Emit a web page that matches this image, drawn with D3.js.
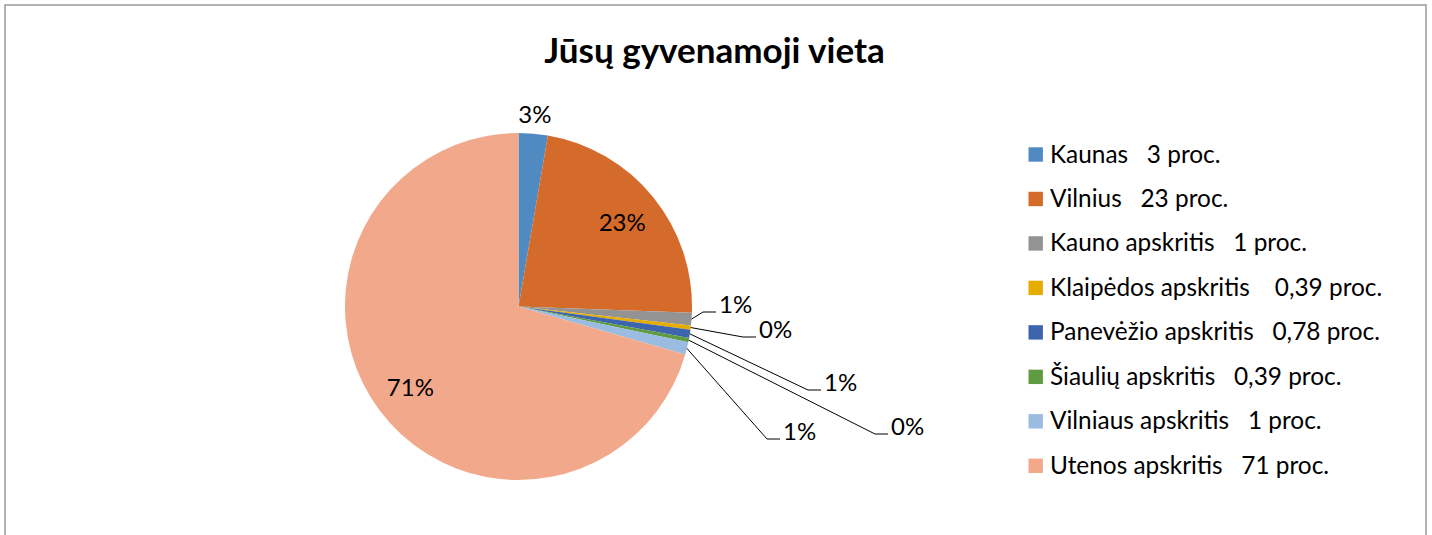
<!DOCTYPE html>
<html>
<head>
<meta charset="utf-8">
<script src="https://cdn.jsdelivr.net/npm/d3@7"></script>
<style>
  html, body { margin: 0; padding: 0; background: #fff; }
  svg { display: block; }
  text { font-family: Lato, "Open Sans", sans-serif; fill: #000; }
  .legend text { white-space: pre; }
</style>
</head>
<body>
<svg id="chart" width="1432" height="535"></svg>
<script>
// ---- data ----
const title = "Jūsų gyvenamoji vieta";
const categories = ["Kaunas", "Vilnius", "Kauno apskritis", "Klaipėdos apskritis", "Panevėžio apskritis", "Šiaulių apskritis", "Vilniaus apskritis", "Utenos apskritis"];
const values = [2.71, 22.87, 1.16, 0.39, 0.78, 0.39, 1.16, 70.54];
const legendSuffix = ["   3 proc.", "   23 proc.", "   1 proc.", "    0,39 proc.", "   0,78 proc.", "   0,39 proc.", "   1 proc.", "   71 proc."];
const colors = ["#4F8AC0", "#D56B2B", "#939393", "#E6AC00", "#3D65AE", "#609B42", "#9BBCE1", "#F2A98B"];

// ---- layout (positions, not data) ----
const W = 1432, H = 535;
const cx = 518.5, cy = 306.5, R = 173.5;
// label placement per slice: inside radius factor or outside leader elbow (relative to centre)
const labelLayout = [
  { kind: "radial", r: 1.11 },
  { kind: "radial", r: 0.77 },
  { kind: "leader", ex: 184.5, ey: 5.5 },
  { kind: "leader", ex: 224.5, ey: 30.5 },
  { kind: "leader", ex: 289.5, ey: 83.5 },
  { kind: "leader", ex: 356.5, ey: 127.5 },
  { kind: "leader", ex: 248.5, ey: 132.5 },
  { kind: "radial", r: 0.78 }
];

const svg = d3.select("#chart");

// frame
svg.append("rect")
  .attr("x", 5).attr("y", 5).attr("width", 1421).attr("height", 560)
  .attr("fill", "#fff").attr("stroke", "#9a9a9a").attr("stroke-width", 1.5);

// title
svg.append("text")
  .attr("x", 714.5).attr("y", 63)
  .attr("text-anchor", "middle")
  .style("font-weight", "bold").style("font-size", "35px")
  .text(title);

const total = d3.sum(values);
const pie = d3.pie().sort(null).value(d => d);
const arcs = pie(values);
const arc = d3.arc().innerRadius(0).outerRadius(R);

const g = svg.append("g").attr("transform", `translate(${cx},${cy})`);
g.selectAll("path.slice").data(arcs).join("path")
  .attr("class", "slice")
  .attr("d", arc)
  .attr("fill", (d, i) => colors[i]);

const pctLabel = d => Math.round(d.value / total * 100) + "%";

arcs.forEach((d, i) => {
  const L = labelLayout[i];
  const mid = (d.startAngle + d.endAngle) / 2;
  if (L.kind === "radial") {
    const r = R * L.r;
    g.append("text")
      .attr("x", r * Math.sin(mid)).attr("y", -r * Math.cos(mid))
      .attr("text-anchor", "middle").attr("dy", "0.35em")
      .style("font-size", "24px")
      .text(pctLabel(d));
  } else {
    const sx = R * Math.sin(mid), sy = -R * Math.cos(mid);
    const endX = L.ex + 13;
    g.append("path")
      .attr("d", d3.line()([[sx, sy], [L.ex, L.ey], [endX, L.ey]]))
      .attr("fill", "none").attr("stroke", "#000").attr("stroke-width", 1);
    g.append("text")
      .attr("x", endX + 3).attr("y", L.ey + 1)
      .style("font-size", "24px")
      .text(pctLabel(d));
  }
});

// legend
const legendY = d3.scalePoint().domain(categories).range([154.5, 465.8]);
const lg = svg.append("g").attr("class", "legend");
const items = lg.selectAll("g").data(categories).join("g")
  .attr("transform", d => `translate(1028.5,${legendY(d)})`);
items.append("rect")
  .attr("x", 0).attr("y", -7.2).attr("width", 14.4).attr("height", 14.4)
  .attr("fill", (d, i) => colors[i]);
items.append("text")
  .attr("x", 21.5).attr("y", 8)
  .attr("xml:space", "preserve")
  .style("font-size", "24.4px")
  .text((d, i) => d + legendSuffix[i]);
</script>
</body>
</html>
